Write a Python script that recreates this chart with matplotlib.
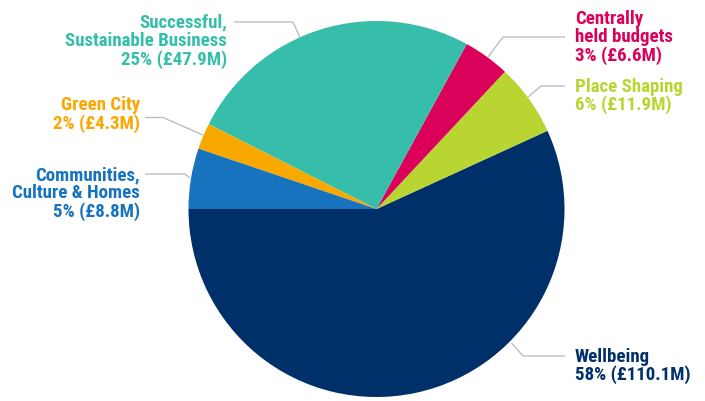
import matplotlib
matplotlib.use("Agg")
import matplotlib.pyplot as plt
from matplotlib import font_manager

names = ["Wellbeing", "Place Shaping", "Centrally\nheld budgets", "Successful,\nSustainable Business",
         "Green City", "Communities,\nCulture & Homes"]
# slice shares (%) as drawn in the reference pie
slice_shares = [56.8, 6.2, 4.0, 25.5, 2.25, 5.2]
pct_labels = ["58%", "6%", "3%", "25%", "2%", "5%"]
money_labels = ["£110.1M", "£11.9M", "£6.6M", "£47.9M", "£4.3M", "£8.8M"]
colors = ["#00306A", "#B9D532", "#DB0059", "#36BEAA", "#F9A800", "#1773BD"]

avail = {f.name for f in font_manager.fontManager.ttflist}
fam = [f for f in ["Liberation Sans Narrow", "Roboto Condensed", "Liberation Sans", "DejaVu Sans"] if f in avail]
plt.rcParams['font.family'] = fam

W, H = 705, 401
fig = plt.figure(figsize=(W / 100, H / 100), dpi=100)
ax = fig.add_axes([0, 0, 1, 1])

cx, cy, r = 376.5, H - 209, 188
ax.pie(slice_shares, colors=colors, startangle=180, counterclock=True, center=(cx, cy), radius=r,
       wedgeprops=dict(linewidth=0), frame=True)
ax.set_xlim(0, W)
ax.set_ylim(0, H)
ax.set_aspect('equal')
ax.axis('off')

# layout (pixel coords, y from top): text anchor x, first baseline y, ha, leader line points
layout = [
    (575, 361.5, 'left', [(565, 356), (523, 356), (511.5, 343)]),
    (575, 91.5, 'left', [(565, 86), (541, 86), (528, 97)]),
    (575, 23.5, 'left', [(565, 37), (503, 37), (488, 57)]),
    (227, 27.5, 'right', [(234, 22), (293, 22), (300, 37.5)]),
    (140, 110.5, 'right', [(145, 117.5), (163, 117.5), (203, 135)]),
    (140, 180, 'right', [(145, 174), (185, 174), (190, 178)]),
]
step = 18.5

for name, p, m, c, (tx, by, ha, pts) in zip(names, pct_labels, money_labels, colors, layout):
    lines = name.split("\n") + [f"{p} ({m})"]
    for i, ln in enumerate(lines):
        ax.text(tx, H - (by + i * step), ln, ha=ha, va='baseline', color=c,
                fontsize=13.6, fontweight='bold')
    xs = [q[0] for q in pts]
    ys = [H - q[1] for q in pts]
    ax.plot(xs, ys, color="#B8B8B8", lw=0.9, solid_capstyle='butt')

fig.savefig("out.png", dpi=100)
